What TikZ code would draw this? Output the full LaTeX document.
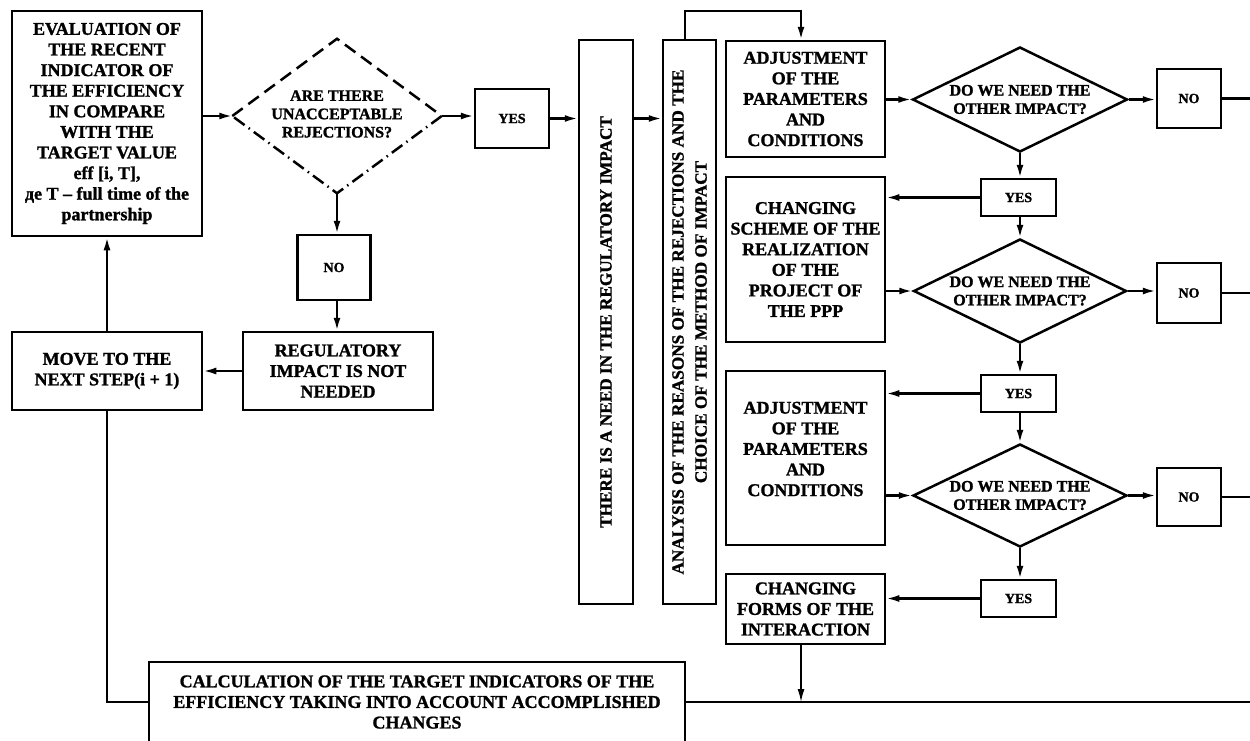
\documentclass[tikz,border=0pt]{standalone}
\usepackage{fontspec}
\setmainfont{Liberation Serif}[BoldFeatures={FakeBold=1.3}]
\usetikzlibrary{shapes.geometric,arrows.meta}
\begin{document}
\begin{tikzpicture}[x=1pt,y=-1pt,
  box/.style={draw, line width=2.5pt, inner sep=0pt, align=center, font=\bfseries\fontsize{18}{20.6}\selectfont},
  ebox/.style={draw, line width=2.5pt, inner sep=0pt},
  sbox/.style={draw, line width=2.5pt, inner sep=0pt, font=\bfseries\fontsize{14}{16}\selectfont},
  dia/.style={diamond, draw, line width=2.5pt, inner sep=0pt},
  dtext/.style={align=center, inner sep=0pt, font=\bfseries\fontsize{16}{18.3}\selectfont},
  btext/.style={align=center, inner sep=0pt, font=\bfseries\fontsize{18}{20.6}\selectfont},
  rtext/.style={align=center, inner sep=0pt, rotate=90, font=\bfseries\fontsize{17.2}{23}\selectfont},
  ln/.style={line width=2.2pt},
  arr/.style={line width=2.2pt, -{Latex[length=13pt,width=7pt]}},
]
\useasboundingbox (0,0) rectangle (1250,740);
\clip (0,0) rectangle (1250,740);
\coordinate (E) at (1250,0);

% left part
\node[box, minimum width=190, minimum height=225] (eval) at (107,123.5)
  {EVALUATION OF\\THE RECENT\\INDICATOR OF\\THE EFFICIENCY\\IN COMPARE\\WITH THE\\TARGET VALUE\\eff [i, T],\\де T – full time of the\\partnership};
\node[dia, draw=none, minimum width=207, minimum height=152] (q) at (337,116) {};
\draw[line width=2.5pt, dash pattern=on 13pt off 7pt] (q.west) -- (q.north) -- (q.east);
\draw[line width=2.5pt, dash pattern=on 13pt off 5pt on 1.5pt off 5pt] (q.east) -- (q.south) -- (q.west);
\node[dtext] (qt) at (337,114) {ARE THERE\\UNACCEPTABLE\\REJECTIONS?};
\node[sbox, minimum width=73, minimum height=65] (nob) at (334,267.5) {NO};
\node[box, minimum width=190, minimum height=78] (reg) at (338,371) {REGULATORY\\IMPACT IS NOT\\NEEDED};
\node[box, minimum width=190, minimum height=78] (move) at (107,371) {MOVE TO THE\\NEXT STEP(i + 1)};
\node[box, minimum width=536, minimum height=80] (calc) at (417,702)
  {CALCULATION OF THE TARGET INDICATORS OF THE\\EFFICIENCY TAKING INTO ACCOUNT ACCOMPLISHED\\CHANGES};

% middle
\node[sbox, minimum width=74, minimum height=59] (yes1) at (512,118.5) {YES};
\node[ebox, minimum width=54, minimum height=564] (b1) at (606,322) {};
\node[rtext] (b1t) at (b1) {THERE IS A NEED IN THE REGULATORY IMPACT};
\node[ebox, minimum width=53, minimum height=564] (b2) at (689.5,322) {};
\node[rtext] (b2t) at (b2) {ANALYSIS OF THE REASONS OF THE REJECTIONS AND THE\\CHOICE OF THE METHOD OF IMPACT};

% right column
\node[box, minimum width=159, minimum height=116] (adj1) at (805.5,99) {ADJUSTMENT\\OF THE\\PARAMETERS\\AND\\CONDITIONS};
\node[dia, minimum width=215, minimum height=105] (d1) at (1020,99.5) {};
\node[dtext] (d1t) at (d1) {DO WE NEED THE\\OTHER IMPACT?};
\node[sbox, minimum width=64, minimum height=59] (no1) at (1189,98.5) {NO};
\node[sbox, minimum width=75, minimum height=37] (yes2) at (1018.5,197.5) {YES};

\node[box, minimum width=159, minimum height=165] (scheme) at (805.5,259.5) {CHANGING\\SCHEME OF THE\\REALIZATION\\OF THE\\PROJECT OF\\THE PPP};
\node[dia, minimum width=213, minimum height=104] (d2) at (1020,291) {};
\node[dtext] (d2t) at (d2) {DO WE NEED THE\\OTHER IMPACT?};
\node[sbox, minimum width=64, minimum height=60] (no2) at (1189,293) {NO};
\node[sbox, minimum width=75, minimum height=37] (yes3) at (1018.5,393.5) {YES};

\node[ebox, minimum width=159, minimum height=174] (adj3) at (805.5,458) {};
\node[btext] (adj3t) at (805.5,449) {ADJUSTMENT\\OF THE\\PARAMETERS\\AND\\CONDITIONS};
\node[dia, minimum width=214, minimum height=103] (d3) at (1020,495.5) {};
\node[dtext] (d3t) at (d3) {DO WE NEED THE\\OTHER IMPACT?};
\node[sbox, minimum width=64, minimum height=58] (no3) at (1189,497) {NO};
\node[sbox, minimum width=75, minimum height=37] (yes4) at (1018.5,598.5) {YES};
\node[box, minimum width=159, minimum height=70] (forms) at (805.5,609) {CHANGING\\FORMS OF THE\\INTERACTION};

% connectors
\draw[arr] (q.west -| eval.east) -- (q.west);
\draw[arr] (q.east) -- (q.east -| yes1.west);
\draw[arr] (yes1.east) -- (yes1.east -| b1.west);
\draw[arr] (yes1.east -| b1.east) -- (yes1.east -| b2.west);
\draw[arr] ([xshift=-4.5pt]b2.north) -- ++(0,-28) -| ([xshift=-4.5pt]adj1.north);
\draw[arr] (d1.west -| adj1.east) -- (d1.west);
\draw[arr] (d1.east) -- (d1.east -| no1.west);
\draw[ln] (no1.east) -- (no1.east -| E);
\draw[arr] (d1.south) -- (d1.south |- yes2.north);
\draw[arr] (yes2.west) -- (yes2.west -| scheme.east);
\draw[arr] (d2.north |- yes2.south) -- (d2.north);
\draw[arr] (d2.west -| scheme.east) -- (d2.west);
\draw[arr] (d2.east) -- (d2.east -| no2.west);
\draw[ln] (no2.east) -- (no2.east -| E);
\draw[arr] (d2.south) -- (d2.south |- yes3.north);
\draw[arr] (yes3.west) -- (yes3.west -| adj3.east);
\draw[arr] (d3.north |- yes3.south) -- (d3.north);
\draw[arr] (d3.west -| adj3.east) -- (d3.west);
\draw[arr] (d3.east) -- (d3.east -| no3.west);
\draw[ln] (no3.east) -- (no3.east -| E);
\draw[arr] (d3.south) -- (d3.south |- yes4.north);
\draw[arr] (yes4.west) -- (yes4.west -| forms.east);
\coordinate (fo) at ([xshift=-4.5pt]forms.south);
\draw[arr, line width=1.5pt] (fo) -- (fo |- calc.east);
\draw[ln] (calc.east) -- (calc.east -| E);
\draw[ln] (move.south) |- (calc.west);
\draw[arr] (move.north) -- (eval.south);
\draw[arr] (reg.west) -- (reg.west -| move.east);
\draw[arr] (q.south) -- (q.south |- nob.north);
\draw[arr] (q.south |- nob.south) -- (q.south |- reg.north);
\end{tikzpicture}
\end{document}
